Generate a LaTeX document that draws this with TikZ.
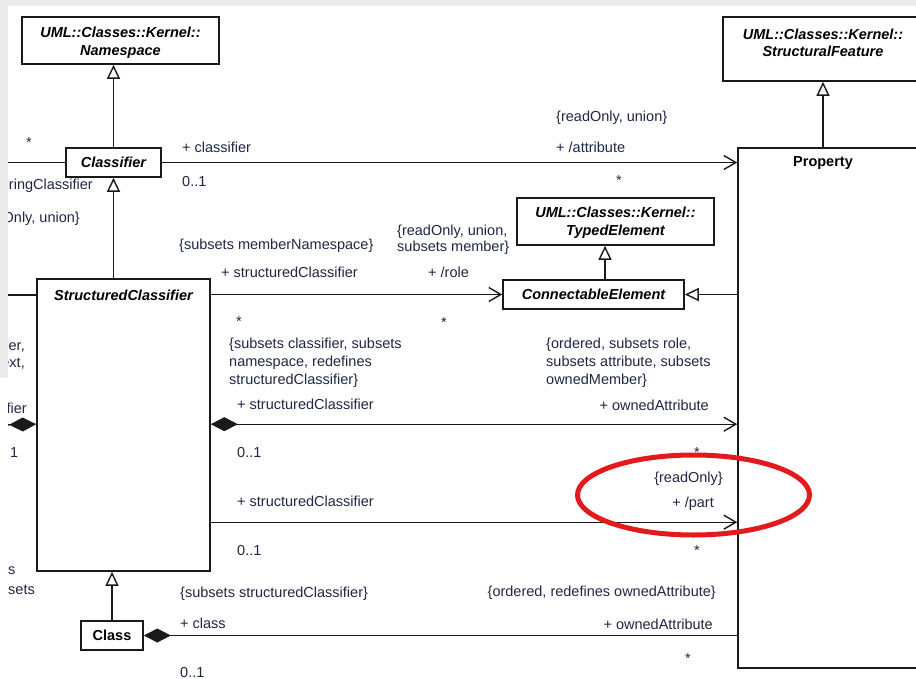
\documentclass[tikz,border=0pt]{standalone}
\usepackage{fontspec}
\setmainfont{Liberation Sans}
\usetikzlibrary{arrows.meta,shapes.geometric}
\definecolor{ink}{HTML}{1F2745}
\definecolor{panel}{HTML}{EBEBEB}
\definecolor{ringred}{HTML}{E3191E}
\definecolor{edge}{HTML}{1A1A1A}
\begin{document}
\begin{tikzpicture}[x=1pt,y=-1pt,
  cls/.style={draw=edge, line width=1.6pt, fill=white, inner sep=0pt},
  ttl/.style={font=\fontsize{14.5}{17.5}\selectfont\bfseries\itshape, align=center, inner sep=0pt, text=black},
  ttlup/.style={font=\fontsize{14.5}{17.5}\selectfont\bfseries, inner sep=0pt, text=black},
  lbl/.style={font=\fontsize{14.5}{18}\selectfont, text=ink, inner sep=0pt, align=left, anchor=base west},
  lblr/.style={font=\fontsize{14.5}{18}\selectfont, text=ink, inner sep=0pt, align=right, anchor=base east},
  mult/.style={font=\fontsize{14.5}{18}\selectfont, text=ink, inner sep=0pt, anchor=base},
  conn/.style={line width=1.4pt, draw=edge},
  nav/.style={conn, -{Straight Barb[length=12pt,width=14pt]}},
  gen/.style={conn, -{Triangle[open,length=14pt,width=13pt,fill=white]}},
  comp/.style={conn, {Diamond[length=27pt,width=14pt]}-},
  compnav/.style={conn, {Diamond[length=27pt,width=14pt]}-{Straight Barb[length=12pt,width=14pt]}},
]
\useasboundingbox (0,0) rectangle (916,679);
% viewer margin
\fill[white] (0,0) rectangle (916,679);
\fill[panel] (0,0) rectangle (916,6);
\fill[panel] (0,0) rectangle (8,378);
\clip (8,6) rectangle (916,679);

% ---------- classes ----------
\node[cls, minimum width=197pt, minimum height=47pt] (ns) at (120.5,40.5) {};
\node[ttl] (ns-t) at (120.5,43) {UML::Classes::Kernel::\\Namespace};

\node[cls, minimum width=95pt, minimum height=29pt, ttl] (cf) at (113.5,162.5) {Classifier};

\node[cls, minimum width=173pt, minimum height=292pt] (sc) at (123.5,425) {};
\node[ttl] (sc-t) at (123.5,295) {StructuredClassifier};

\node[cls, minimum width=197pt, minimum height=47pt] (te) at (615.5,221.5) {};
\node[ttl] (te-t) at (615.5,223) {UML::Classes::Kernel::\\TypedElement};

\node[cls, minimum width=181pt, minimum height=29pt, ttl] (ce) at (593.5,294.5) {ConnectableElement};

\node[cls, minimum width=200pt, minimum height=64pt] (sf) at (823,49) {};
\node[ttl] (sf-t) at (823,43) {UML::Classes::Kernel::\\StructuralFeature};

\node[cls, minimum width=192pt, minimum height=520pt] (prop) at (834,408) {};
\node[ttlup] (prop-t) at (823,163) {Property};

\node[cls, minimum width=62pt, minimum height=29pt, ttlup] (cl) at (112,635.5) {Class};

% ---------- generalizations ----------
\draw[gen] (cf.north) -- (cf.north |- ns.south);
\draw[gen] (sc.north -| cf.south) -- (cf.south);
\draw[gen] (cl.north) -- (cl.north |- sc.south);
\coordinate (ce-up) at ([xshift=11.5pt]ce.north);
\draw[gen] (ce-up) -- (ce-up |- te.south);
\draw[gen] (prop.north -| sf.south) -- (sf.south);
\draw[gen] (prop.west |- ce.east) -- (ce.east);

% ---------- associations ----------
\draw[nav] (cf.east) -- (cf.east -| prop.west);
\draw[nav] (sc.east |- ce.west) -- (ce.west);
\coordinate (sc-oa) at ([yshift=-146pt]sc.north east);
\draw[compnav] (sc-oa) -- (sc-oa -| prop.west);
\coordinate (sc-pt) at ([yshift=-244pt]sc.north east);
\draw[nav] (sc-pt) -- (sc-pt -| prop.west);
\draw[comp] (cl.east) -- (cl.east -| prop.west);

% associations leaving to the left
\coordinate (lft-a) at (0,162.5);
\draw[conn] (lft-a) -- (cf.west);
\coordinate (lft-b) at (0,295);
\draw[conn] (lft-b) -- (lft-b -| sc.west);
\coordinate (sc-lc) at ([yshift=-146pt]sc.north west);
\coordinate (lft-c) at (0,425);
\draw[comp] (sc-lc) -- (lft-c);

% ---------- end labels ----------
% left side
\node[mult] (l-st) at (29,148) {*};
\node[lblr] (l-feat) at (93,190) {+ /featuringClassifier};
\node[lblr] (l-ro) at (80,223) {{\{}readOnly, union{\}}};
\node[lblr] (l-er) at (25,350) {er,};
\node[lblr] (l-xt) at (25,367) {ext,};
\node[lblr] (l-fi) at (27,413) {fier};
\node[lbl] (l-one) at (10,457) {1};
\node[lbl] (l-s) at (8,574) {s};
\node[lbl] (l-sets) at (8,594) {sets};

% Classifier -- Property
\node[lbl] (c1) at (182,153) {+ classifier};
\node[lbl] (c2) at (182,187) {0..1};
\node[lbl] (c3) at (556,122) {{\{}readOnly, union{\}}};
\node[lbl] (c4) at (556,153) {+ /attribute};
\node[mult] (c5) at (619,186) {*};

% StructuredClassifier -- ConnectableElement
\node[lbl] (s1) at (179,250) {{\{}subsets memberNamespace{\}}};
\node[lbl] (s2) at (221,277) {+ structuredClassifier};
\node[mult] (s3) at (239,326) {*};
% (base anchor of a multi-line label sits on its last line)
\node[lbl, font=\fontsize{14.5}{17}\selectfont] (s4) at (397,252) {{\{}readOnly, union,\\subsets member{\}}};
\node[lbl] (s5) at (428,278) {+ /role};
\node[mult] (s6) at (444,327) {*};

% StructuredClassifier -- Property (ownedAttribute)
\node[lbl] (o1) at (229,384) {{\{}subsets classifier, subsets\\namespace, redefines\\structuredClassifier{\}}};
\node[lbl] (o2) at (237,409) {+ structuredClassifier};
\node[lbl] (o3) at (237,457) {0..1};
\node[lbl] (o4) at (546,384) {{\{}ordered, subsets role,\\subsets attribute, subsets\\ownedMember{\}}};
\node[lblr] (o5) at (709,410) {+ ownedAttribute};
\node[mult] (o6) at (697,457) {*};

% StructuredClassifier -- Property (part)
\node[lbl] (p1) at (237,506) {+ structuredClassifier};
\node[lbl] (p2) at (237,555) {0..1};
\node[lblr] (p3) at (723,482) {{\{}readOnly{\}}};
\node[lblr] (p4) at (714,507) {+ /part};
\node[mult] (p5) at (697,555) {*};

% Class -- Property
\node[lbl] (k1) at (180,597) {{\{}subsets structuredClassifier{\}}};
\node[lbl] (k2) at (180,628) {+ class};
\node[lbl] (k3) at (180,677) {0..1};
\node[lblr] (k4) at (716,596) {{\{}ordered, redefines ownedAttribute{\}}};
\node[lblr] (k5) at (713,629) {+ ownedAttribute};
\node[mult] (k6) at (688,663) {*};

% highlight ring
\node[ellipse, draw=ringred, line width=5pt, minimum width=232pt, minimum height=80pt, inner sep=0pt] (ring) at (693.5,495) {};
\end{tikzpicture}
\end{document}
